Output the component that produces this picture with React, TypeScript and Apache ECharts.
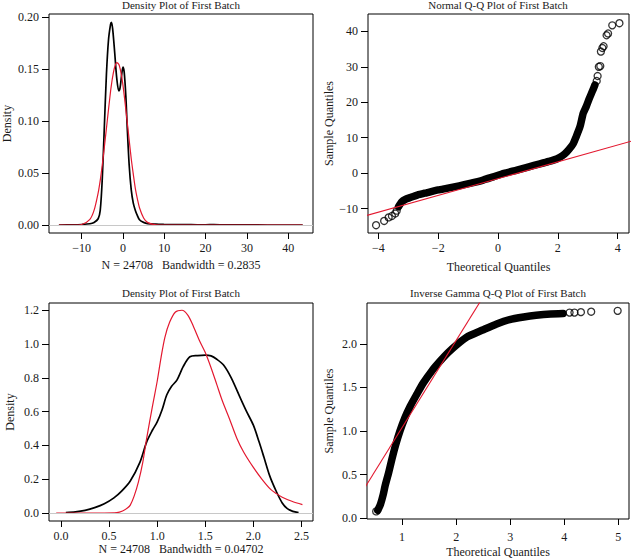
import React, { useEffect, useRef } from "react";
import * as echarts from "echarts";

// ---------- Panel 1: density plot (wide range) ----------
const dens1X = [-15.5, -12, -10, -8, -7, -6, -5.5, -5, -4.5, -4, -3.5, -3, -2.8, -2.5, -2, -1.5, -1, -0.7, -0.3, 0, 0.3, 0.7, 1, 1.5, 2, 2.5, 3, 3.5, 4, 5, 6, 8, 10, 12, 15, 18, 20, 22, 25, 30, 35, 43.5];
const dens1Kernel = [0, 0.0002, 0.0005, 0.0012, 0.0025, 0.006, 0.014, 0.045, 0.095, 0.145, 0.178, 0.193, 0.195, 0.189, 0.166, 0.141, 0.129, 0.132, 0.145, 0.152, 0.147, 0.124, 0.097, 0.058, 0.034, 0.021, 0.014, 0.009, 0.005, 0.0025, 0.0014, 0.0008, 0.0005, 0.0003, 0.0004, 0.0002, 0.0002, 0.0004, 0.0001, 0.0001, 0, 0];
const dens1Fit = [0, 0, 0.0005, 0.0055, 0.014, 0.031, 0.043, 0.058, 0.075, 0.093, 0.111, 0.1285, 0.1345, 0.1425, 0.152, 0.1563, 0.1545, 0.1506, 0.1425, 0.1345, 0.125, 0.111, 0.1, 0.082, 0.064, 0.049, 0.035, 0.025, 0.0166, 0.0067, 0.0023, 0.0002, 0, 0, 0, 0, 0, 0, 0, 0, 0, 0];
const p1XTicks = [-10, 0, 10, 20, 30, 40];
const p1YTicks = [0, 0.05, 0.1, 0.15, 0.2];

// ---------- Panel 2: normal Q-Q ----------
const qq2LowTheo = [-4.08, -3.81, -3.66, -3.55, -3.44, -3.39];
const qq2LowSample = [-14.7, -13.5, -12.5, -12.1, -11.4, -10.6];
const qq2BandTheo = [-3.33, -3.22, -3.1, -2.94, -2.7, -2.39, -2.0, -1.72, -1.3, -0.94, -0.5, -0.16, 0.2, 0.63, 1.0, 1.4, 1.7, 1.96, 2.15, 2.3, 2.45, 2.52, 2.6, 2.74, 2.85, 2.95, 3.05, 3.17, 3.24];
const qq2BandSample = [-9.5, -8.1, -7.4, -6.9, -6.2, -5.55, -4.75, -4.3, -3.6, -2.9, -1.95, -1.05, -0.1, 0.85, 1.7, 2.6, 3.3, 4.0, 4.9, 6.0, 7.5, 8.4, 10.0, 13.1, 16.9, 18.8, 21.0, 23.4, 24.9];
const qq2HighTheo = [3.3, 3.33, 3.37, 3.42, 3.44, 3.49, 3.53, 3.63, 3.68, 3.82, 4.06];
const qq2HighSample = [26.0, 27.4, 30.0, 30.2, 34.3, 35.3, 35.8, 38.9, 39.4, 41.7, 42.3];
const qq2LineTheo = [-5, 5];
const qq2LineSample = [-13.4, 10.3];
const p2XTicks = [-4, -2, 0, 2, 4];
const p2YTicks = [-10, 0, 10, 20, 30, 40];

// ---------- Panel 3: density plot (narrow range) ----------
const dens3KX = [0.05, 0.15, 0.25, 0.35, 0.45, 0.55, 0.63, 0.72, 0.82, 0.89, 0.95, 1.0, 1.05, 1.1, 1.15, 1.205, 1.27, 1.34, 1.42, 1.5, 1.56, 1.62, 1.69, 1.77, 1.865, 1.93, 2.0, 2.06, 2.11, 2.17, 2.24, 2.3, 2.35, 2.41, 2.47];
const dens3KY = [0.003, 0.007, 0.016, 0.032, 0.055, 0.09, 0.13, 0.19, 0.3, 0.42, 0.49, 0.54, 0.61, 0.7, 0.75, 0.787, 0.866, 0.925, 0.932, 0.935, 0.93, 0.91, 0.876, 0.8, 0.68, 0.6, 0.52, 0.42, 0.33, 0.22, 0.126, 0.06, 0.028, 0.01, 0.003];
const dens3FX = [-0.05, 0.2, 0.45, 0.58, 0.64, 0.69, 0.72, 0.76, 0.805, 0.85, 0.89, 0.95, 1.0, 1.04, 1.08, 1.13, 1.19, 1.257, 1.32, 1.38, 1.44, 1.5, 1.56, 1.62, 1.68, 1.75, 1.83, 1.9, 2.0, 2.09, 2.18, 2.24, 2.3, 2.4, 2.51];
const dens3FY = [0, 0, 0, 0.002, 0.012, 0.03, 0.047, 0.1, 0.185, 0.3, 0.44, 0.63, 0.78, 0.92, 1.04, 1.13, 1.19, 1.2, 1.17, 1.1, 1.02, 0.95, 0.86, 0.76, 0.66, 0.56, 0.44, 0.36, 0.27, 0.2, 0.14, 0.115, 0.094, 0.07, 0.05];
const p3XTicks = [0, 0.5, 1, 1.5, 2, 2.5];
const p3YTicks = [0, 0.2, 0.4, 0.6, 0.8, 1.0, 1.2];

// ---------- Panel 4: inverse gamma Q-Q ----------
const qq4LowTheo = [0.52];
const qq4LowSample = [0.077];
const qq4BandTheo = [0.55, 0.6, 0.65, 0.685, 0.75, 0.81, 0.88, 0.96, 1.05, 1.15, 1.27, 1.39, 1.55, 1.7, 1.85, 2.01, 2.2, 2.49, 2.75, 2.99, 3.25, 3.48, 3.75, 3.98];
const qq4BandSample = [0.09, 0.16, 0.27, 0.37, 0.52, 0.675, 0.84, 1.0, 1.15, 1.285, 1.42, 1.55, 1.69, 1.8, 1.9, 1.99, 2.08, 2.16, 2.23, 2.28, 2.31, 2.33, 2.345, 2.35];
const qq4HighTheo = [4.1, 4.19, 4.31, 4.5, 4.99];
const qq4HighSample = [2.36, 2.36, 2.365, 2.37, 2.38];
const qq4LineTheo = [0, 3];
const qq4LineSample = [0.04, 3.04];
const p4XTicks = [1, 2, 3, 4, 5];
const p4YTicks = [0, 0.5, 1.0, 1.5, 2.0];

const titles = [
  "Density Plot of First Batch",
  "Normal Q-Q Plot of First Batch",
  "Density Plot of First Batch",
  "Inverse Gamma Q-Q Plot of First Batch",
];
const xNames = ["N = 24708   Bandwidth = 0.2835", "Theoretical Quantiles", "N = 24708   Bandwidth = 0.04702", "Theoretical Quantiles"];
const yNames = ["Density", "Sample Quantiles", "Density", "Sample Quantiles"];

const FONT = "Liberation Serif";
const TXT = "#1a1a1a";
const RED = "#e3182f";

const zip = (a: number[], b: number[]) => a.map((v, i) => [v, b[i]]);
const minus = (s: string) => s.replace("-", "\u2212");

function App() {
  const ref = useRef<HTMLDivElement>(null);
  useEffect(() => {
    document.body.style.margin = "0";
    const chart = echarts.init(ref.current!, undefined, { renderer: "svg" });

    const grids = [
      { left: 49, top: 14, width: 264, height: 219 },
      { left: 368, top: 14, width: 261, height: 219 },
      { left: 49, top: 303, width: 264, height: 218 },
      { left: 367, top: 303, width: 262, height: 216 },
    ].map((g) => ({ ...g, show: true, borderColor: "#000", borderWidth: 1, backgroundColor: "transparent" }));

    const mkX = (gi: number, min: number, max: number, ticks: number[], fmt: (v: number) => string, gap: number, margin: number) => ({
      type: "value",
      gridIndex: gi,
      min,
      max,
      name: xNames[gi],
      nameLocation: "middle",
      nameGap: gap,
      nameTextStyle: { fontFamily: FONT, fontSize: 12, color: TXT },
      axisLine: { show: false, onZero: false },
      splitLine: { show: false },
      axisTick: { show: true, length: 6, customValues: ticks, lineStyle: { color: "#000" } },
      axisLabel: { customValues: ticks, formatter: (v: number) => fmt(v), fontFamily: FONT, fontSize: 12, color: TXT, margin },
    });
    const mkY = (gi: number, min: number, max: number, ticks: number[], fmt: (v: number) => string, gap: number) => ({
      type: "value",
      gridIndex: gi,
      min,
      max,
      name: yNames[gi],
      nameLocation: "middle",
      nameGap: gap,
      nameTextStyle: { fontFamily: FONT, fontSize: 12, color: TXT },
      axisLine: { show: false, onZero: false },
      splitLine: { show: false },
      axisTick: { show: true, length: 7, customValues: ticks, lineStyle: { color: "#000" } },
      axisLabel: { customValues: ticks, formatter: (v: number) => fmt(v), fontFamily: FONT, fontSize: 12, color: TXT, margin: 10 },
    });

    const zeroLine = {
      silent: true,
      symbol: "none",
      label: { show: false },
      lineStyle: { color: "#c8c8c8", type: "solid", width: 1 },
      data: [{ yAxis: 0 }],
    };

    const curve = (gi: number, data: number[][], color: string, width: number, extra: any = {}) => ({
      type: "line",
      xAxisIndex: gi,
      yAxisIndex: gi,
      data,
      showSymbol: false,
      smooth: 0.3,
      clip: true,
      lineStyle: { color, width },
      itemStyle: { color },
      ...extra,
    });
    const band = (gi: number, data: number[][]) => ({
      type: "line",
      xAxisIndex: gi,
      yAxisIndex: gi,
      data,
      showSymbol: false,
      smooth: 0.2,
      clip: true,
      lineStyle: { color: "#000", width: 7.5, cap: "round", join: "round" },
    });
    const pts = (gi: number, data: number[][]) => ({
      type: "scatter",
      xAxisIndex: gi,
      yAxisIndex: gi,
      data,
      symbol: "circle",
      symbolSize: 7,
      clip: true,
      itemStyle: { color: "rgba(0,0,0,0)", borderColor: "#000", borderWidth: 1.3 },
    });
    const refLine = (gi: number, data: number[][]) => ({
      type: "line",
      xAxisIndex: gi,
      yAxisIndex: gi,
      data,
      showSymbol: false,
      clip: true,
      lineStyle: { color: RED, width: 1.1 },
    });

    const titlePos = [
      [181, 5],
      [498, 5],
      [181, 293],
      [498, 293],
    ];

    chart.setOption({
      animation: false,
      backgroundColor: "#fff",
      grid: grids,
      xAxis: [
        mkX(0, -17.9, 46, p1XTicks, (v) => minus(String(v)), 26, 9),
        mkX(1, -4.35, 4.38, p2XTicks, (v) => minus(String(v)), 28, 9),
        mkX(2, -0.125, 2.62, p3XTicks, (v) => v.toFixed(1), 17, 9),
        mkX(3, 0.35, 5.2, p4XTicks, (v) => String(v), 27, 12),
      ],
      yAxis: [
        mkY(0, -0.0077, 0.203, p1YTicks, (v) => v.toFixed(2), 36),
        mkY(1, -16.9, 44.9, p2YTicks, (v) => minus(String(v)), 33),
        mkY(2, -0.047, 1.243, p3YTicks, (v) => v.toFixed(1), 33),
        mkY(3, -0.01, 2.47, p4YTicks, (v) => v.toFixed(1), 32),
      ],
      graphic: titles.map((t, i) => ({
        type: "text",
        x: titlePos[i][0],
        y: titlePos[i][1],
        style: { text: t, fontFamily: FONT, fontSize: 11, fill: TXT, align: "center", verticalAlign: "middle" },
      })),
      series: [
        curve(0, zip(dens1X, dens1Kernel), "#000", 1.7, { markLine: zeroLine }),
        curve(0, zip(dens1X, dens1Fit), RED, 1.2),
        band(1, zip(qq2BandTheo, qq2BandSample)),
        pts(1, zip(qq2LowTheo, qq2LowSample)),
        pts(1, zip(qq2HighTheo, qq2HighSample)),
        refLine(1, zip(qq2LineTheo, qq2LineSample)),
        curve(2, zip(dens3KX, dens3KY), "#000", 1.7, { markLine: zeroLine }),
        curve(2, zip(dens3FX, dens3FY), RED, 1.2),
        band(3, zip(qq4BandTheo, qq4BandSample)),
        pts(3, zip(qq4LowTheo, qq4LowSample)),
        pts(3, zip(qq4HighTheo, qq4HighSample)),
        refLine(3, zip(qq4LineTheo, qq4LineSample)),
      ],
    });
    return () => chart.dispose();
  }, []);
  return <div ref={ref} style={{ position: "absolute", left: 0, top: 0, width: 632, height: 560 }} />;
}

export default App;
